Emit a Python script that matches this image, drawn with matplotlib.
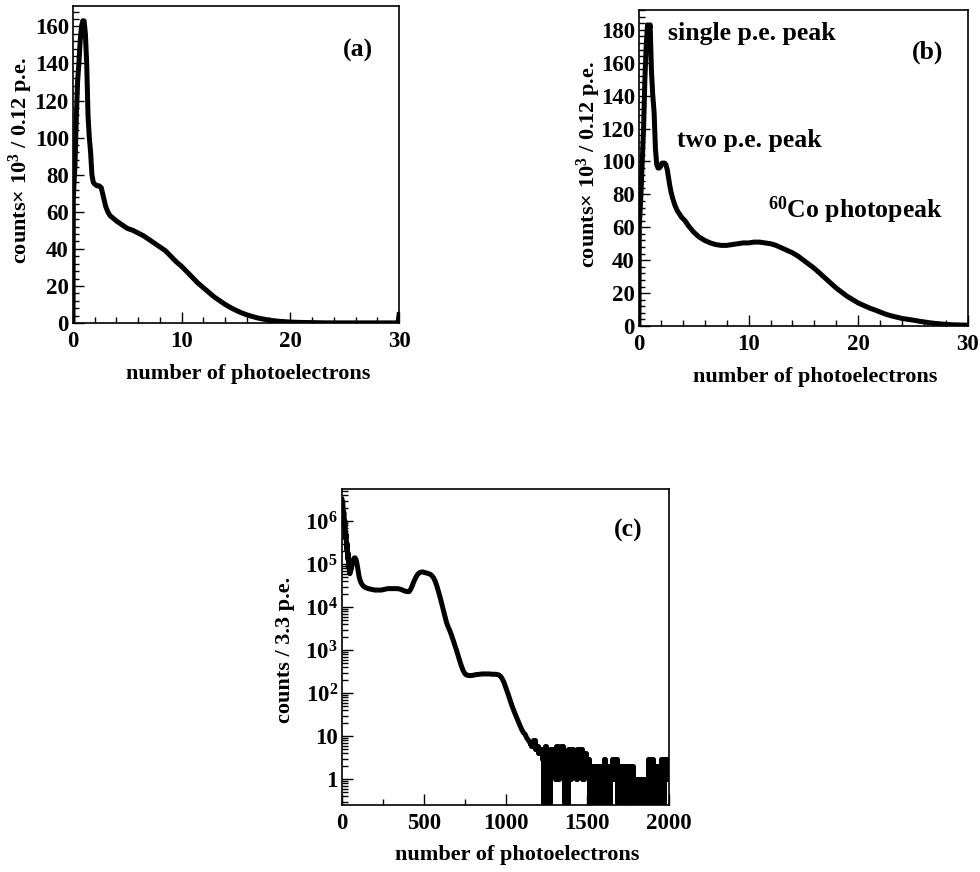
import matplotlib
matplotlib.use("Agg")
import matplotlib.pyplot as plt
from matplotlib.ticker import MultipleLocator, FixedLocator, LogLocator, NullFormatter

plt.rcParams['font.family'] = ['Liberation Serif', 'DejaVu Serif']
plt.rcParams['font.weight'] = 'bold'
plt.rcParams['mathtext.fontset'] = 'custom'
plt.rcParams['mathtext.rm'] = 'Liberation Serif:bold'
plt.rcParams['mathtext.bf'] = 'Liberation Serif:bold'
plt.rcParams['mathtext.it'] = 'Liberation Serif:bold:italic'

# panel (a): counts x 1e3 per 0.12 p.e.
pe_a = [0, 0.03, 0.18, 0.30, 0.42, 0.54, 0.66, 0.78, 0.90, 1.02, 1.14, 1.26, 1.38, 1.50,
        1.62, 1.74, 1.86, 1.98, 2.2, 2.4, 2.6, 2.8, 3.0, 3.2, 3.4, 3.6, 3.8, 4.0, 4.5, 5,
        5.5, 6, 6.5, 7, 7.5, 8, 8.5, 9, 9.5, 10, 10.5, 11, 11.5, 12, 12.5, 13, 13.5, 14,
        14.5, 15, 15.5, 16, 16.5, 17, 17.5, 18, 18.5, 19, 19.5, 20, 21, 22, 23, 24, 25,
        26, 27, 28, 29, 29.9, 30]
counts_a = [0, 68, 85, 110, 130, 140, 152, 160, 163, 163, 156, 140, 112, 100,
            92, 80, 76, 75, 74, 74, 73, 68, 63, 60, 58, 57, 56, 55, 53, 51,
            50, 48.5, 47, 45, 43, 41, 39, 36, 33, 30.5, 27.5, 24.5, 21.5, 19, 16.5, 14, 12, 10,
            8.3, 6.8, 5.5, 4.4, 3.5, 2.7, 2.1, 1.6, 1.2, 0.9, 0.7, 0.5, 0.3, 0.2, 0.1, 0.05, 0.05,
            0.05, 0.05, 0.05, 0.05, 0.05, 4.5]

# panel (b)
pe_b = [0, 0.03, 0.18, 0.30, 0.42, 0.54, 0.66, 0.78, 0.90, 1.02, 1.14, 1.26, 1.38, 1.50,
        1.62, 1.74, 1.86, 1.98, 2.1, 2.22, 2.34, 2.46, 2.58, 2.7, 2.82, 2.94, 3.1, 3.3,
        3.5, 3.7, 3.9, 4.2, 4.5, 5.0, 5.5, 6.0, 6.5, 7, 7.5, 8, 8.5, 9, 9.5, 10, 10.5, 11,
        11.5, 12, 12.5, 13, 13.5, 14, 14.5, 15, 15.5, 16, 16.5, 17, 17.5, 18, 18.5, 19,
        19.5, 20, 20.5, 21, 21.5, 22, 22.5, 23, 23.5, 24, 24.5, 25, 25.5, 26, 26.5, 27,
        27.5, 28, 28.5, 29, 29.5, 30]
counts_b = [0, 60, 80, 100, 120, 150, 170, 183, 178, 183, 155, 140, 130, 108,
            98, 96, 96, 97, 99, 99, 99, 98, 95, 90, 85, 81, 77, 73,
            70, 68, 66, 64, 61, 57, 54, 52, 50.5, 49.5, 49, 49, 49.5, 50, 50.5, 50.5, 51, 51,
            50.5, 50, 49, 47.5, 46, 44.5, 42.5, 40, 37.5, 35, 32, 29, 26, 23, 20.5, 18,
            16, 14, 12.5, 11, 9.8, 8.5, 7.2, 6.2, 5.4, 4.6, 4.1, 3.6, 3.0, 2.5, 2.0, 1.6,
            1.3, 1.0, 0.8, 0.7, 0.6, 0.5]

# panel (c): counts per 3.3 p.e., log scale; the smooth part ends at 1150 p.e.
pe_c = [0, 2, 5, 8, 12, 15, 18, 22, 25, 28, 32, 35, 38, 42, 45, 48, 52, 56, 60, 65, 70, 75,
        80, 85, 90, 95, 100, 105, 110, 115, 120, 130, 140, 150, 160, 180, 200, 220, 240,
        260, 280, 300, 320, 340, 360, 380, 400, 410, 420, 430, 440, 450, 460, 470, 480,
        490, 500, 510, 520, 530, 540, 550, 560, 570, 580, 590, 600, 610, 620, 630, 640,
        650, 660, 670, 680, 690, 700, 710, 720, 730, 740, 750, 760, 780, 800, 820, 840,
        860, 880, 900, 920, 940, 960, 970, 980, 990, 1000, 1010, 1020, 1030, 1040, 1050,
        1060, 1070, 1080, 1090, 1100, 1110, 1120, 1130, 1140, 1150,
        1165, 1175, 1185, 1195, 1205, 1215, 1225, 1235, 1245, 1255, 1265, 1275, 1285,
        1295, 1305, 1315, 1325, 1335, 1345, 1355, 1365, 1375, 1385, 1395, 1405, 1415,
        1425, 1435, 1445, 1455, 1465, 1475, 1485, 1495, 1505, 1515, 1525, 1535, 1545,
        1555, 1565, 1575, 1585, 1595, 1605, 1615, 1625, 1635, 1645, 1655, 1665, 1675,
        1685, 1695, 1705, 1715, 1725, 1735, 1745, 1755, 1765, 1775, 1785, 1795, 1805,
        1815, 1825, 1835, 1845, 1855, 1865, 1875, 1885, 1895, 1905, 1915, 1925, 1935,
        1945, 1955, 1965, 1975, 1985, 1995]
counts_c = [3.2e6, 3.0e6, 2.6e6, 1.4e6, 1.6e6, 8e5, 1.0e6, 4e5, 5e5, 2.2e5, 3e5, 1.3e5, 1.8e5,
            8e4, 1.1e5, 6e4, 8e4, 7.5e4, 9e4, 1.1e5, 1.3e5, 1.4e5, 1.4e5, 1.3e5, 1.1e5,
            8.5e4, 6.5e4, 5e4, 4.3e4, 3.8e4, 3.5e4, 3.1e4, 2.9e4, 2.8e4, 2.7e4, 2.6e4,
            2.5e4, 2.5e4, 2.5e4, 2.6e4, 2.7e4, 2.7e4, 2.7e4, 2.7e4, 2.6e4, 2.4e4, 2.3e4,
            2.3e4, 2.6e4, 3.2e4, 4.0e4, 4.8e4, 5.6e4, 6.2e4, 6.5e4, 6.6e4, 6.5e4, 6.3e4,
            6.2e4, 6.0e4, 5.8e4, 5.4e4, 4.8e4, 4.0e4, 3.1e4, 2.3e4, 1.7e4, 1.2e4, 8.5e3,
            6e3, 4.3e3, 3.4e3, 2.8e3, 2.2e3, 1.7e3, 1.3e3, 1.0e3, 750, 560, 430, 340, 290,
            265, 255, 260, 270, 275, 280, 280, 280, 275, 275, 265, 245, 215, 180, 140, 110,
            85, 65, 50, 40, 32, 26, 21, 17, 14, 12, 11, 9, 8, 7,
            6, 8, 5, 6, 4, 5, 3, 0, 6, 2, 0, 5, 2,
            5, 1, 6, 1, 4, 6, 2, 0, 0, 5, 1, 5, 2,
            4, 1, 5, 2, 5, 1, 4, 2, 3, 0, 2, 0, 2,
            0, 2, 0, 2, 1, 3, 0, 2, 0, 2, 3, 1, 3,
            0, 2, 0, 2, 1, 2, 0, 2, 0, 2, 1, 0, 1,
            0, 1, 0, 1, 1, 0, 3, 0, 3, 2, 0, 2, 0,
            2, 3, 0, 3, 1, 3]
n_smooth = pe_c.index(1150) + 1

fig = plt.figure(figsize=(9.8, 8.72), dpi=100)
ax_a = fig.add_axes([0.0745, 0.6296, 0.3327, 0.3635])
ax_b = fig.add_axes([0.652, 0.6261, 0.3357, 0.3624])
ax_c = fig.add_axes([0.349, 0.0768, 0.3337, 0.3624])

lw = 3.6
tick_fs = 16.5
label_fs = 16
text_fs = 18.5

def style(ax):
    for s in ax.spines.values():
        s.set_linewidth(1.2)
    ax.tick_params(which='both', direction='in', top=False, right=False,
                   labelsize=tick_fs, width=1.0)
    ax.tick_params(which='major', length=8)
    ax.tick_params(which='minor', length=4.5)
    ax.tick_params(axis='x', pad=6)
    ax.tick_params(axis='y', pad=3)
    for t in ax.get_xticklabels() + ax.get_yticklabels():
        t.set_fontweight('bold')

ylab = r'counts$\times$ 10$^{3}$ / 0.12 p.e.'

# (a)
ax_a.plot(pe_a, counts_a, color='black', lw=lw)
ax_a.set_xlim(0, 30)
ax_a.set_ylim(0, 171)
ax_a.xaxis.set_major_locator(MultipleLocator(10))
ax_a.xaxis.set_minor_locator(MultipleLocator(2))
ax_a.yaxis.set_major_locator(MultipleLocator(20))
ax_a.yaxis.set_minor_locator(MultipleLocator(4))
style(ax_a)
ax_a.set_xlabel('number of photoelectrons', fontsize=label_fs, fontweight='bold')
ax_a.set_ylabel(ylab, fontsize=label_fs, fontweight='bold')
ax_a.xaxis.set_label_coords(0.538, -0.128)
ax_a.yaxis.set_label_coords(-0.118, 0.514)
ax_a.text(0.874, 0.861, '(a)', transform=ax_a.transAxes, ha='center', va='center',
          fontsize=text_fs, fontweight='bold')

# (b)
ax_b.plot(pe_b, counts_b, color='black', lw=lw)
ax_b.set_xlim(0, 30)
ax_b.set_ylim(0, 192)
ax_b.xaxis.set_major_locator(MultipleLocator(10))
ax_b.xaxis.set_minor_locator(MultipleLocator(2))
ax_b.yaxis.set_major_locator(MultipleLocator(20))
ax_b.yaxis.set_minor_locator(MultipleLocator(4))
style(ax_b)
ax_b.set_xlabel('number of photoelectrons', fontsize=label_fs, fontweight='bold')
ax_b.set_ylabel(ylab, fontsize=label_fs, fontweight='bold')
ax_b.xaxis.set_label_coords(0.536, -0.13)
ax_b.yaxis.set_label_coords(-0.11, 0.51)
ax_b.text(0.876, 0.865, '(b)', transform=ax_b.transAxes, ha='center', va='center',
          fontsize=text_fs, fontweight='bold')
ax_b.text(0.088, 0.926, 'single p.e. peak', transform=ax_b.transAxes, ha='left',
          va='center', fontsize=text_fs, fontweight='bold')
ax_b.text(0.115, 0.588, 'two p.e. peak', transform=ax_b.transAxes, ha='left',
          va='center', fontsize=text_fs, fontweight='bold')
ax_b.text(0.392, 0.367, r'$^{60}$Co photopeak', transform=ax_b.transAxes, ha='left',
          va='center', fontsize=text_fs, fontweight='bold')

# (c)
ax_c.plot(pe_c[:n_smooth], counts_c[:n_smooth], color='black', lw=lw)
ax_c.plot(pe_c[n_smooth - 1:], counts_c[n_smooth - 1:], drawstyle='steps-mid',
          color='black', lw=lw)
ax_c.set_yscale('log', nonpositive='clip')
ax_c.set_xlim(0, 2000)
ax_c.set_ylim(0.25, 5.6e6)
ax_c.xaxis.set_major_locator(MultipleLocator(500))
ax_c.xaxis.set_minor_locator(MultipleLocator(250))
ax_c.yaxis.set_major_locator(FixedLocator([1, 10, 1e2, 1e3, 1e4, 1e5, 1e6]))
ax_c.set_yticklabels(['1', '10', r'$10^{2}$', r'$10^{3}$', r'$10^{4}$', r'$10^{5}$', r'$10^{6}$'])
ax_c.yaxis.set_minor_locator(LogLocator(base=10, subs=range(2, 10), numticks=20))
ax_c.yaxis.set_minor_formatter(NullFormatter())
style(ax_c)
ax_c.set_xlabel('number of photoelectrons', fontsize=label_fs, fontweight='bold')
ax_c.set_ylabel('counts / 3.3 p.e.', fontsize=label_fs, fontweight='bold')
ax_c.xaxis.set_label_coords(0.537, -0.128)
ax_c.yaxis.set_label_coords(-0.144, 0.49)
ax_c.text(0.876, 0.87, '(c)', transform=ax_c.transAxes, ha='center', va='center',
          fontsize=text_fs, fontweight='bold')

fig.savefig('out.png', dpi=100)
